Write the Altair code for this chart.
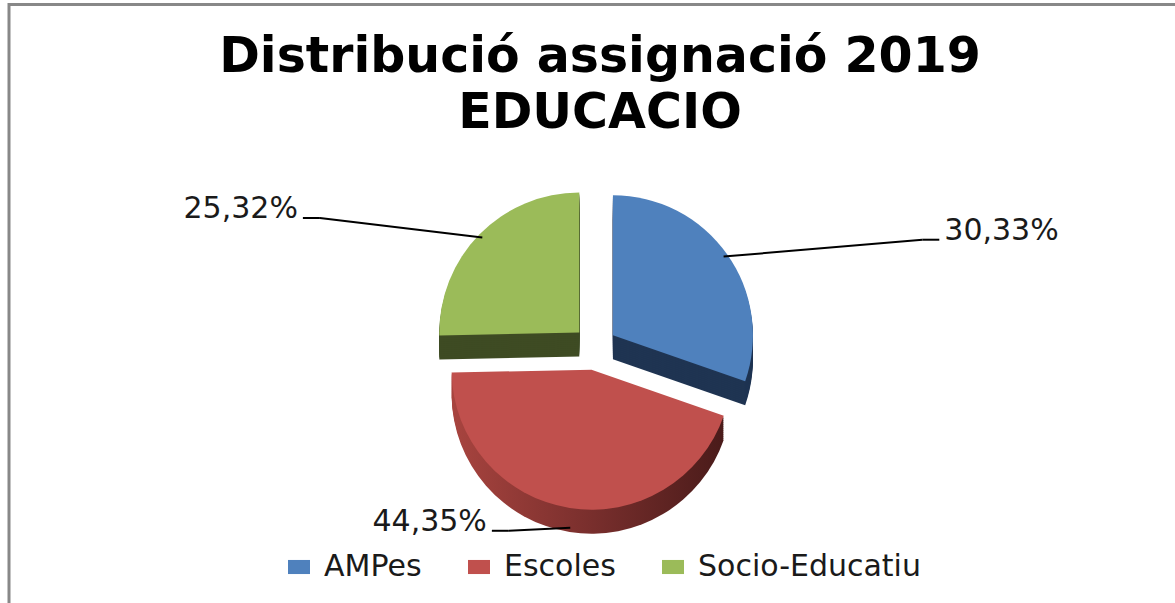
import altair as alt
import pandas as pd

# ---- data ----
categories = ["AMPes", "Escoles", "Socio-Educatiu"]
values = [30.33, 44.35, 25.32]
title_lines = ["Distribució assignació 2019", "EDUCACIO"]

# ---- styles ----
top_colors = ["#4F81BD", "#C0504D", "#9BBB59"]
side_colors = ["#1F3452", "#7A2F2D", "#3E4B23"]
FONT = "DejaVu Sans"
CX, CY, R, EXPLODE, DEPTH = 595, 348, 140, 22, 24
LCX, LCY, LRX, LRY, LPUSH = 604, 335, 339, 180, 64

df = pd.DataFrame({"cat": categories, "value": values,
                   "order": list(range(len(categories)))})

base = (
    alt.Chart(df)
    .transform_joinaggregate(total="sum(value)")
    .transform_window(cum="sum(value)", sort=[alt.SortField("order")], frame=[None, 0])
    .transform_calculate(
        t0="2*PI*(datum.cum - datum.value)/datum.total",
        t1="2*PI*datum.cum/datum.total",
    )
    .transform_calculate(mid="(datum.t0 + datum.t1)/2")
    .transform_calculate(
        s="sin(datum.mid)", c="cos(datum.mid)",
        sg="sin(datum.mid) >= 0 ? 1 : -1",
    )
    .transform_calculate(
        cx=f"{CX} + {EXPLODE}*datum.s",
        cy=f"{CY} - {EXPLODE}*datum.c",
    )
    .transform_calculate(
        ex=f"datum.cx + {R}*0.97*datum.s",
        ey=f"datum.cy - {R}*0.97*datum.c + (datum.c < 0 ? {DEPTH} : 0)",
        lx=f"{LCX} + {LRX}*datum.s + {LPUSH}*datum.sg",
        ly=f"{LCY} - {LRY}*datum.c + (datum.c < 0 ? 9 : 0)",
        label="replace(format(datum.value, '.2f'), '.', ',') + '%'",
    )
    .transform_calculate(
        kx="datum.lx - 22*datum.sg",
        endx="datum.lx - 5*datum.sg",
        hy="datum.ly + 9",
    )
)

arc_enc = dict(
    theta=alt.Theta("t0:Q", scale=None),
    theta2="t1:Q",
    x=alt.X("cx:Q", scale=None),
    y=alt.Y("cy:Q", scale=None),
)

front = categories[1]
sides = [
    base.transform_filter(f"datum.cat != '{front}'").mark_arc(radius=R, yOffset=d).encode(
        color=alt.Color("cat:N", scale=alt.Scale(domain=categories, range=side_colors), legend=None),
        **arc_enc,
    )
    for d in range(DEPTH, 0, -2)
]
red_grad = alt.LinearGradient(
    gradient="linear", x1=0, x2=1, y1=0, y2=0,
    stops=[alt.GradientStop(color="#A8443F", offset=0),
           alt.GradientStop(color="#7A2F2D", offset=0.5),
           alt.GradientStop(color="#4A1B1A", offset=1)],
)
front_sides = [
    base.transform_filter(f"datum.cat == '{front}'").mark_arc(
        radius=R, yOffset=d, color=red_grad).encode(**arc_enc)
    for d in range(DEPTH, 0, -2)
]

tops = base.mark_arc(radius=R).encode(
    color=alt.Color(
        "cat:N",
        scale=alt.Scale(domain=categories, range=top_colors),
        legend=alt.Legend(
            title=None, orient="none", legendX=284, legendY=552,
            direction="horizontal",
            symbolType="M-1,-0.64L1,-0.64L1,0.64L-1,0.64Z", symbolSize=484,
            symbolStrokeWidth=0, labelFont=FONT, labelFontSize=30,
            labelColor="#1a1a1a", columnPadding=42, labelOffset=10,
            padding=0, labelLimit=400,
        ),
    ),
    **arc_enc,
)

lead1 = base.mark_rule(color="black", strokeWidth=2).encode(
    x=alt.X("ex:Q", scale=None), y=alt.Y("ey:Q", scale=None),
    x2="kx:Q", y2="hy:Q",
)
lead2 = base.mark_rule(color="black", strokeWidth=2).encode(
    x=alt.X("kx:Q", scale=None), y=alt.Y("hy:Q", scale=None),
    x2="endx:Q", y2="hy:Q",
)
labels_right = base.transform_filter("datum.sg > 0").mark_text(
    font=FONT, fontSize=30, color="#1a1a1a", align="left", baseline="middle"
).encode(x=alt.X("lx:Q", scale=None), y=alt.Y("ly:Q", scale=None), text="label:N")
labels_left = base.transform_filter("datum.sg < 0").mark_text(
    font=FONT, fontSize=30, color="#1a1a1a", align="right", baseline="middle"
).encode(x=alt.X("lx:Q", scale=None), y=alt.Y("ly:Q", scale=None), text="label:N")

one = alt.Chart(pd.DataFrame({"k": [0]}))
title = one.mark_text(
    text=title_lines, font=FONT, fontSize=49, fontWeight="bold",
    align="center", baseline="top", lineHeight=56, color="black",
).encode(x=alt.value(600), y=alt.value(33))

border_left = one.mark_rule(color="#888888", strokeWidth=3).encode(
    x=alt.value(9), y=alt.value(3), y2=alt.value(603))
border_top = one.mark_rule(color="#888888", strokeWidth=3).encode(
    x=alt.value(8), x2=alt.value(1175), y=alt.value(4.5))

chart = (
    alt.layer(border_left, border_top, title, *sides, *front_sides, tops, lead1, lead2,
              labels_right, labels_left)
    .resolve_scale(color="independent")
    .properties(width=1175, height=603, padding=0, autosize=alt.AutoSizeParams(type="none"),
                background="white")
    .configure_view(stroke=None)
)

chart.save("out.html", embed_options={"renderer": "svg", "actions": False})
